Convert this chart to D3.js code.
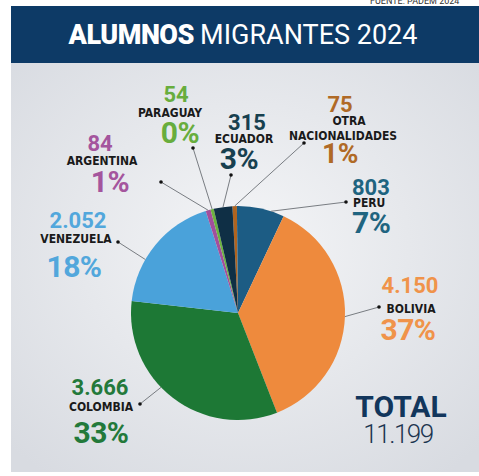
<!DOCTYPE html>
<html>
<head>
<meta charset="utf-8">
<script src="https://cdn.jsdelivr.net/npm/d3@7"></script>
<style>
  html, body { margin: 0; padding: 0; background: #fff; }
  svg { display: block; }
  .lab { font-family: "Liberation Sans Narrow", "DejaVu Sans Condensed", sans-serif; font-weight: 700; fill: #1a1a1a; }
  .num { font-family: Roboto, "Open Sans", sans-serif; font-weight: 700; }
</style>
</head>
<body>
<svg id="chart" width="479" height="476"></svg>
<script>
// data, clockwise from 12 o'clock
const countries = ['OTRA NACIONALIDADES', 'PERU', 'BOLIVIA', 'COLOMBIA', 'VENEZUELA', 'ARGENTINA', 'PARAGUAY', 'ECUADOR'];
const students = [75, 803, 4150, 3666, 2052, 84, 54, 315];
const sliceColors = ['#b0641f', '#1c5c84', '#ee8a3d', '#1d7835', '#4aa2da', '#a24f9c', '#6cb23f', '#0f2f45'];
const textColors = ['#b06a26', '#1f6480', '#f0934a', '#23793a', '#52a7dc', '#a4559d', '#68ad3d', '#17404f'];

// label placement (baselines, text anchor), dot and where the leader touches the pie
const layout = {
    'OTRA NACIONALIDADES': { num: [340, 112], lab: [[349, 125, 'OTRA'], [343, 140, 'NACIONALIDADES']], pct: [340, 163], dot: [304, 143], anchor: 'middle', pctSize: 28 },
    'PERU':      { num: [352, 195], lab: [[353, 207]], pct: [352, 233], dot: [346, 202], anchor: 'start', hit: 18 },
    'BOLIVIA':   { num: [410, 293], lab: [[411, 313]], pct: [408, 340], dot: [379, 307], anchor: 'middle' },
    'COLOMBIA':  { num: [100, 395], lab: [[101, 411]], pct: [101, 443], dot: [140, 404], anchor: 'middle', hit: 226 },
    'VENEZUELA': { num: [78, 228],  lab: [[76, 243]],  pct: [74, 277],  dot: [118, 242], anchor: 'middle', hit: 300 },
    'ARGENTINA': { num: [100, 151], lab: [[102, 165]], pct: [110, 192], dot: [161, 182], anchor: 'middle' },
    'PARAGUAY':  { num: [176, 102], lab: [[170, 117]], pct: [180, 143], dot: [193, 148], anchor: 'middle' },
    'ECUADOR':   { num: [247, 130], lab: [[244, 143]], pct: [239, 169], dot: [231, 175], anchor: 'middle' }
};

const width = 479, height = 476;
const cx = 238, cy = 313, radius = 107;
const startDeg = -3;

const svg = d3.select('#chart');
const defs = svg.append('defs');

const bg = defs.append('radialGradient')
    .attr('id', 'bg')
    .attr('cx', '50%').attr('cy', '45%').attr('r', '70%');
bg.append('stop').attr('offset', '0%').attr('stop-color', '#f4f5f7');
bg.append('stop').attr('offset', '100%').attr('stop-color', '#d8dbe1');

// background panel + banner
svg.append('rect').attr('x', 11).attr('y', 63).attr('width', width - 11).attr('height', 409).attr('fill', 'url(#bg)');
svg.append('rect').attr('x', 11).attr('y', 6).attr('width', width - 11).attr('height', 57).attr('fill', '#0d3a66');

svg.append('text')
    .attr('x', 370).attr('y', 4)
    .attr('font-family', 'Roboto, sans-serif')
    .attr('font-size', 9)
    .attr('fill', '#333')
    .text('FUENTE: PADEM 2024');

const title = svg.append('text')
    .attr('x', 243).attr('y', 44)
    .attr('text-anchor', 'middle')
    .attr('font-family', 'Roboto, "Open Sans", sans-serif')
    .attr('font-size', 27)
    .attr('fill', '#fff');
title.append('tspan').attr('font-weight', 900).attr('letter-spacing', -0.5).text('ALUMNOS ');
title.append('tspan').attr('font-weight', 400).text('MIGRANTES 2024');

// pie
const rad = d => d * Math.PI / 180;
const pie = d3.pie()
    .sort(null)
    .value(i => students[i])
    .startAngle(rad(startDeg))
    .endAngle(rad(startDeg + 360));
const arcs = pie(d3.range(countries.length));
const arc = d3.arc().innerRadius(0).outerRadius(radius);

const g = svg.append('g').attr('transform', `translate(${cx},${cy})`);
g.selectAll('path')
    .data(arcs)
    .join('path')
    .attr('d', arc)
    .attr('fill', d => sliceColors[d.data]);

// labels
const total = d3.sum(students);
const locale = d3.formatLocale({ decimal: ',', thousands: '.', grouping: [3], currency: ['$', ''] });
const fmtNum = locale.format(',d');
const fmtPct = v => Math.round(v * 100) + '%';

const labels = svg.append('g');
arcs.forEach(a => {
    const i = a.data;
    const name = countries[i];
    const L = layout[name];
    const ang = L.hit !== undefined ? rad(L.hit) : (a.startAngle + a.endAngle) / 2;
    const ex = cx + radius * Math.sin(ang), ey = cy - radius * Math.cos(ang);

    labels.append('line')
        .attr('x1', L.dot[0]).attr('y1', L.dot[1])
        .attr('x2', ex).attr('y2', ey)
        .attr('stroke', '#6b6f75').attr('stroke-width', 0.9);
    labels.append('circle')
        .attr('cx', L.dot[0]).attr('cy', L.dot[1]).attr('r', 1.8)
        .attr('fill', '#111');

    labels.append('text').attr('class', 'num')
        .attr('x', L.num[0]).attr('y', L.num[1])
        .attr('text-anchor', L.anchor)
        .attr('font-size', 22)
        .attr('fill', textColors[i])
        .text(fmtNum(students[i]));

    L.lab.forEach(l => {
        labels.append('text').attr('class', 'lab')
            .attr('x', l[0]).attr('y', l[1])
            .attr('text-anchor', L.anchor)
            .attr('font-size', 12)
            .text(l[2] || name);
    });

    labels.append('text').attr('class', 'num')
        .attr('x', L.pct[0]).attr('y', L.pct[1])
        .attr('text-anchor', L.anchor)
        .attr('font-size', L.pctSize || 30)
        .attr('letter-spacing', -0.5)
        .attr('fill', textColors[i])
        .text(fmtPct(students[i] / total));
});

// total
svg.append('text').attr('class', 'num')
    .attr('x', 401).attr('y', 417)
    .attr('text-anchor', 'middle')
    .attr('font-size', 30)
    .attr('font-weight', 900)
    .attr('fill', '#12365c')
    .text('TOTAL');
svg.append('text')
    .attr('x', 398).attr('y', 443)
    .attr('text-anchor', 'middle')
    .attr('font-family', 'Roboto, sans-serif')
    .attr('font-size', 26)
    .attr('font-weight', 300)
    .attr('letter-spacing', -1.5)
    .attr('fill', '#1c3550')
    .text(fmtNum(total));
</script>
</body>
</html>
